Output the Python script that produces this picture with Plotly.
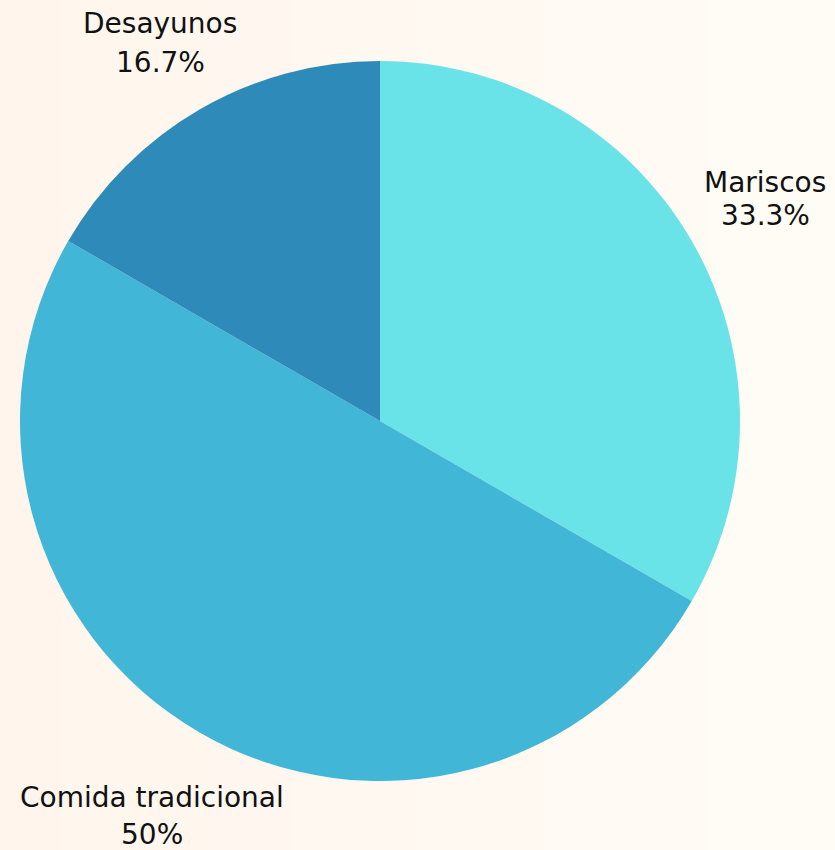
import plotly.graph_objects as go

categories = ["Mariscos", "Comida tradicional", "Desayunos"]
values = [2, 3, 1]
colors = ["#69e3e8", "#42b6d6", "#2e8ab8"]

W, H = 835, 850
cx, cy, r = 380, 421, 360

total = sum(values)
pct_text = []
for v in values:
    p = round(100 * v / total, 1)
    pct_text.append(("%g" % p) + "%")

# label anchor positions in pixels (x center, y of name line, y of percent line)
label_pos = {
    "Mariscos": (765, 182, 215),
    "Comida tradicional": (152, 797, 834),
    "Desayunos": (160, 23, 63),
}

fig = go.Figure(go.Pie(
    labels=categories,
    values=values,
    sort=False,
    direction="clockwise",
    rotation=0,
    marker=dict(colors=colors, line=dict(width=0)),
    textinfo="none",
    showlegend=False,
    domain=dict(x=[(cx - r) / W, (cx + r) / W], y=[(H - cy - r) / H, (H - cy + r) / H]),
    hoverinfo="label+percent",
))

# soft horizontal background gradient
c0 = (255, 245, 236)
c1 = (255, 252, 246)
n = 40
shapes = []
for i in range(n):
    t = i / (n - 1)
    col = "rgb(%d,%d,%d)" % tuple(round(a + (b - a) * t) for a, b in zip(c0, c1))
    shapes.append(dict(type="rect", xref="paper", yref="paper",
                       x0=i / n, x1=(i + 1) / n + 0.002, y0=0, y1=1,
                       fillcolor=col, line=dict(width=0), layer="below"))

annotations = []
font = dict(family="DejaVu Sans", size=28, color="#111111")
for cat, pt in zip(categories, pct_text):
    x, y1, y2 = label_pos[cat]
    for txt, yy in ((cat, y1), (pt, y2)):
        annotations.append(dict(text=txt, x=x / W, y=1 - yy / H, xref="paper", yref="paper",
                                xanchor="center", yanchor="middle", showarrow=False, font=font))

fig.update_layout(
    width=W, height=H,
    margin=dict(l=0, r=0, t=0, b=0),
    paper_bgcolor="#fff8f1",
    plot_bgcolor="#fff8f1",
    shapes=shapes,
    annotations=annotations,
)

fig.write_html("out.html", config={"displayModeBar": False},
               post_script="document.body.style.margin='0';")
